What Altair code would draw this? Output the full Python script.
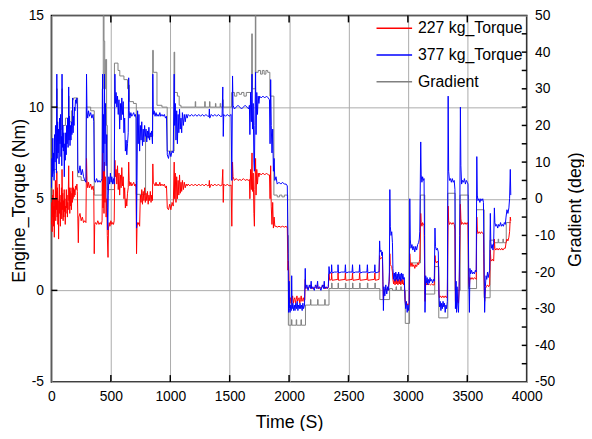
import altair as alt
import pandas as pd

# ---------------- data ----------------
SERIES = ["227 kg_Torque", "377 kg_Torque", "Gradient"]
COLORS = ["#ff0000", "#0000ff", "#808080"]

X_TICKS = [0, 500, 1000, 1500, 2000, 2500, 3000, 3500, 4000]
X_INNER = [500, 1000, 1500, 2000, 2500, 3000, 3500]
Y_TICKS = [-5, 0, 5, 10, 15]
Y_INNER = [0, 5, 10]
G_TICKS = [-50, -40, -30, -20, -10, 0, 10, 20, 30, 40, 50]
G_INNER = [-45, -40, -35, -30, -25, -20, -15, -10, -5, 0, 5, 10, 15, 20, 25, 30, 35, 40, 45]

# 377 kg torque (Nm): (time s, value)
BLUE = [(0,5.6),(4,7.2),(8,6.2),(11,8.3),(14,6.5),(18,7.5),(22,6.0),(26,8.5),(30,7.0),(34,9.0),(38,7.8),(42,6.4),(45,11.8),(48,7.2),(52,9.2),(56,7.5),(60,8.8),(64,6.9),(68,9.4),(72,8.0),(76,9.6),(80,7.3),(84,8.4),(87,6.8),(89,11.8),(92,7.8),(96,9.0),(100,7.6),(104,8.6),(108,6.2),(112,8.0),(116,7.1),(120,8.6),(124,7.4),(128,9.0),(132,8.0),(136,9.4),(140,7.8),(143,8.8),(145,11.1),(148,8.2),(152,9.5),(156,7.9),(160,9.0),(164,8.2),(168,9.2),(172,8.5),(176,9.0),(178,10.5),(182,8.6),(186,9.5),(190,9.0),(194,10.0),(198,9.8),
(202,10.4),(208,10.2),(214,10.5),(218,10.0),(222,6.6),(230,6.4),(240,6.8),(250,6.3),(260,6.6),(270,6.2),(280,6.0),(290,5.9),(295,11.8),(299,9.8),(305,9.4),(312,9.8),(320,9.5),(330,9.7),(340,9.4),(350,9.6),(356,9.2),(362,6.0),(370,5.9),(380,6.1),(390,5.9),(400,6.0),(410,5.9),(420,6.0),(426,6.1),
(430,11.8),(434,7.5),(438,9.6),(442,6.5),(446,11.8),(450,8.0),(455,10.2),(460,6.8),(465,8.5),(470,4.5),(474,3.3),(478,5.2),(483,6.2),(490,5.8),(496,6.4),(502,5.9),(508,6.2),(515,5.8),(522,6.1),(528,5.8),
(534,11.8),(538,10.2),(544,10.8),(550,10.0),(556,10.6),(562,9.6),(568,10.4),(574,8.8),(580,10.2),(586,9.3),(592,10.5),(598,9.6),(604,10.3),(610,8.6),(616,9.4),(622,7.6),(628,8.2),(634,7.4),(640,8.0),(646,8.6),(650,11.6),(654,9.8),(660,9.4),(668,9.7),(676,9.5),(684,9.6),(692,9.7),(700,9.5),(706,9.6),(712,9.4),
(716,3.4),(720,6.0),(725,9.8),(730,8.0),(736,9.6),(742,7.6),(748,9.0),(754,8.2),(760,9.2),(766,7.9),(772,8.8),(778,8.1),(784,9.0),(790,8.4),(796,8.8),(802,8.1),(808,8.7),(814,8.3),(820,8.9),(826,8.2),(832,8.6),(838,8.4),(844,8.7),(850,8.0),
(853,11.8),(857,9.6),(864,9.8),(872,9.5),(880,9.7),(888,9.5),(896,9.6),(904,9.5),(912,9.7),(920,9.5),(930,9.6),(940,9.5),(950,9.6),(960,9.4),(968,9.5),
(975,7.4),(985,7.2),(995,7.6),(1005,7.3),(1015,7.6),(1025,7.5),(1033,11.8),(1037,9.0),(1042,10.2),(1048,8.2),(1054,9.8),(1060,8.0),(1066,9.6),(1072,8.6),(1078,9.9),(1084,8.8),(1090,9.4),(1096,8.6),(1102,9.7),(1110,9.0),(1118,9.6),(1126,9.2),(1134,9.6),(1142,9.4),(1150,9.6),
(1165,9.5),(1180,9.6),(1195,9.5),(1210,9.6),(1225,9.5),(1240,9.6),(1255,9.5),(1270,9.6),(1285,9.5),(1300,9.6),(1315,9.5),(1326,9.5),(1329,9.9),(1332,9.4),(1345,9.6),(1360,9.5),(1375,9.6),(1390,9.5),(1405,9.6),(1420,9.5),(1436,9.5),
(1442,11.1),(1446,8.4),(1450,9.6),(1465,9.5),(1480,9.6),(1495,9.5),(1512,9.6),(1518,6.0),(1524,11.7),(1528,10.1),(1540,9.9),(1555,10.0),(1570,10.1),(1585,10.0),(1600,9.9),(1615,10.0),(1630,10.1),(1645,10.0),(1660,9.9),(1666,10.1),
(1670,8.5),(1676,10.8),(1682,9.2),(1688,11.8),(1692,8.8),(1698,10.2),(1704,7.0),(1708,6.5),(1712,9.0),(1718,11.9),(1722,8.5),(1728,10.8),(1734,9.6),(1740,10.6),(1746,10.2),(1752,10.6),(1765,10.5),(1780,10.6),(1795,10.5),(1810,10.6),(1825,10.5),(1835,10.4),
(1840,8.0),(1845,11.5),(1850,9.0),(1856,7.5),(1862,8.8),(1868,6.5),(1874,7.2),(1880,6.0),(1890,6.2),(1900,5.8),(1915,5.9),(1930,5.8),(1945,5.9),(1960,5.8),(1975,5.8),(1985,5.7),
(1992,2.0),(1996,-1.2),(2000,0.5),(2004,-1.0),(2008,-1.2),(2014,-0.8),(2018,-1.1),(2022,0.8),(2026,-1.0),(2032,-0.7),(2038,-1.1),(2044,-0.8),(2050,-1.1),(2056,-0.7),(2062,-1.0),(2068,-0.6),(2074,-1.1),(2080,-0.8),(2086,-1.0),(2092,-0.7),(2098,-1.0),(2104,-0.8),(2110,-1.1),(2116,-0.7),(2122,-1.0),(2130,-0.8),
(2136,1.2),(2140,0.1),(2150,0.3),(2160,0.0),(2170,0.3),(2180,0.1),(2186,0.5),(2190,0.1),(2200,0.2),(2212,0.0),(2222,0.3),(2232,0.1),(2240,0.5),(2244,0.1),(2256,0.2),(2268,0.0),(2280,0.3),(2290,0.1),(2296,0.5),(2300,0.1),(2312,0.2),(2322,0.1),(2330,0.2),
(2336,1.3),(2342,0.9),(2350,1.0),(2356,1.0),(2358,1.4),(2362,0.95),(2380,1.0),(2400,1.0),(2410,1.0),(2412,1.4),(2416,0.95),(2440,1.0),(2470,1.0),(2474,1.4),(2478,0.95),(2500,1.0),(2530,1.0),(2534,1.4),(2538,0.95),(2560,1.0),(2590,1.0),(2594,1.4),(2598,0.95),(2620,1.0),(2655,1.0),(2659,1.4),(2663,0.95),(2690,1.0),(2718,1.0),(2722,1.4),(2726,0.95),(2750,1.0),(2757,1.0),
(2762,2.7),(2766,2.1),(2774,2.2),(2780,1.9),(2786,2.1),(2790,0.5),(2794,-1.1),(2798,0.2),(2806,-0.3),(2814,0.3),(2822,-0.2),(2830,0.2),(2838,0.0),(2844,1.0),(2848,5.5),(2852,3.5),(2858,3.0),(2864,3.2),(2870,2.6),(2874,1.2),(2880,0.6),(2886,0.95),(2892,0.5),(2898,1.0),(2904,0.6),(2910,0.9),(2916,0.5),(2922,1.0),(2928,0.6),(2934,0.9),(2940,0.5),(2946,0.95),(2952,0.6),(2958,0.9),(2964,0.6),(2970,0.7),(2976,-0.6),(2982,-1.0),(2988,-0.6),(2994,-1.2),(3000,-0.8),(3006,-1.1),(3011,-0.7),
(3016,5.0),(3020,2.8),(3026,2.3),(3034,2.5),(3042,2.2),(3050,2.4),(3058,2.1),(3066,2.4),(3074,2.2),(3082,2.5),(3090,2.6),(3096,2.8),(3100,3.2),
(3108,8.1),(3112,6.3),(3118,5.9),(3124,6.2),(3130,6.0),(3136,6.1),(3140,3.0),(3144,-1.2),(3150,0.8),(3156,0.4),(3162,0.7),(3168,0.3),(3174,0.6),(3180,0.4),(3186,0.7),(3192,0.5),(3200,0.6),(3208,0.4),(3216,0.6),(3222,0.5),
(3228,3.4),(3232,2.4),(3240,2.2),(3248,2.3),(3256,2.1),(3262,-0.3),(3266,-0.9),(3272,-0.6),(3278,-1.1),(3284,-0.7),(3290,-1.0),(3296,-0.6),(3302,-0.9),(3308,-0.7),(3314,-1.2),(3320,-0.8),(3326,-1.0),(3332,-0.6),
(3339,10.6),(3343,6.5),(3350,6.0),(3358,6.1),(3366,5.9),(3374,6.1),(3382,5.9),(3390,6.0),(3396,5.5),(3400,-1.0),(3406,0.5),(3410,-1.2),(3414,0.2),(3420,-0.8),(3426,-1.2),(3432,0.5),(3436,3.0),
(3442,10.0),(3446,6.8),(3452,5.8),(3460,6.0),(3468,5.9),(3476,6.1),(3484,5.8),(3492,6.0),(3500,5.9),(3506,5.8),
(3512,1.0),(3518,-1.2),(3522,1.2),(3528,0.9),(3536,1.1),(3544,0.9),(3552,1.0),(3560,0.9),(3568,1.1),(3575,1.0),
(3580,7.3),(3584,5.2),(3590,4.9),(3598,5.0),(3606,4.8),(3614,5.0),(3622,4.9),(3630,5.0),(3636,4.8),(3640,2.0),(3646,-1.2),(3652,0.2),(3658,0.8),(3664,0.6),(3670,1.0),(3676,0.7),(3682,0.9),(3688,1.1),
(3694,4.2),(3698,2.6),(3704,2.3),(3710,2.5),(3716,2.2),(3722,2.6),(3728,4.5),(3732,3.7),(3740,3.5),(3748,3.6),(3756,3.4),(3764,3.6),(3772,3.5),(3780,3.7),(3788,3.5),(3796,3.6),(3804,3.5),(3812,3.7),(3820,3.6),(3826,4.0),(3834,4.4),(3842,4.2),(3850,4.5),(3856,5.0),(3862,6.6),(3866,5.2)]

# 227 kg torque (Nm)
RED = [(0,3.6),(3,4.8),(6,3.2),(9,5.2),(12,4.0),(15,5.5),(18,3.5),(21,4.6),(24,2.9),(27,5.0),(30,4.2),(33,6.0),(36,3.8),(39,5.4),(42,4.4),(45,6.5),(48,4.0),(51,5.6),(54,3.6),(57,4.9),(60,2.8),(63,4.5),(66,5.8),(69,4.2),(72,5.2),(75,3.5),(78,4.8),(81,4.1),(84,5.6),(87,3.9),(89,6.6),(92,4.4),(95,5.3),(98,3.8),(101,4.9),(104,4.0),(107,5.5),(110,4.3),(113,5.0),(116,3.6),(119,4.6),(122,4.2),(125,5.5),(128,4.5),(131,5.2),(134,4.0),(137,4.8),(140,4.4),(145,6.8),(148,4.9),(151,5.6),(154,4.2),(157,5.4),(160,4.6),(164,5.6),(168,4.4),(172,5.3),(176,4.8),(178,6.5),(182,5.0),(186,5.6),(190,5.1),(194,5.5),(198,5.2),
(202,5.7),(208,5.5),(214,5.8),(218,5.4),(222,3.9),(226,2.6),(230,4.0),(240,4.2),(250,3.8),(260,4.0),(270,3.7),(280,3.8),(290,3.7),(295,7.2),(299,6.0),(305,5.6),(312,5.9),(320,5.6),(330,5.8),(340,5.5),(350,5.7),(356,5.4),(360,2.0),(364,3.6),(370,3.7),(380,3.6),(390,3.8),(400,3.6),(410,3.7),(420,3.6),(426,3.8),
(430,7.5),(434,4.5),(438,6.5),(442,4.2),(446,7.0),(450,4.8),(455,6.2),(460,4.0),(465,5.0),(470,3.0),(476,1.8),(480,3.4),(486,3.7),(492,3.5),(500,3.8),(508,3.6),(515,3.7),(522,3.6),(528,3.8),
(534,7.1),(538,6.2),(544,6.6),(550,5.8),(556,6.8),(562,5.5),(568,6.4),(574,5.2),(580,6.3),(586,5.6),(592,6.7),(598,5.7),(604,6.2),(610,5.0),(616,5.6),(622,4.5),(628,5.0),(634,4.6),(640,5.3),(646,5.6),(650,7.0),(654,6.0),(660,5.7),(668,5.9),(676,5.7),(684,5.8),(692,5.9),(700,5.7),(706,5.8),(712,5.6),
(716,2.0),(720,3.4),(725,3.7),(730,3.6),(736,3.7),(742,3.5),(748,5.2),(754,4.8),(760,5.5),(766,4.7),(772,5.4),(778,4.9),(784,5.6),(790,4.8),(796,5.3),(802,4.9),(808,5.4),(814,4.7),(820,5.2),(826,4.9),(832,5.4),(838,4.8),(844,5.2),(850,4.9),
(853,6.9),(857,5.9),(864,5.8),(872,5.7),(880,5.9),(888,5.7),(896,5.8),(904,5.7),(912,5.9),(920,5.7),(930,5.8),(940,5.7),(950,5.8),(960,5.6),(968,5.7),
(975,4.5),(985,4.4),(995,4.7),(1005,4.4),(1015,4.8),(1025,4.6),(1033,7.0),(1037,5.0),(1042,6.4),(1048,4.8),(1054,6.2),(1060,5.0),(1066,6.0),(1072,5.2),(1078,6.3),(1084,5.3),(1090,5.9),(1096,5.4),(1102,6.0),(1110,5.5),(1118,5.9),(1126,5.6),(1134,5.8),(1142,5.7),(1150,5.8),
(1165,5.7),(1180,5.8),(1195,5.7),(1210,5.8),(1225,5.7),(1240,5.8),(1255,5.7),(1270,5.8),(1285,5.7),(1300,5.8),(1315,5.7),(1326,5.75),(1329,6.0),(1332,5.6),(1345,5.8),(1360,5.7),(1375,5.8),(1390,5.7),(1405,5.8),(1420,5.7),(1436,5.75),
(1442,6.6),(1446,4.8),(1450,5.8),(1465,5.7),(1480,5.8),(1495,5.7),(1512,5.75),(1518,3.5),(1524,7.0),(1528,6.2),(1540,6.0),(1555,6.1),(1570,6.0),(1585,6.05),(1600,6.0),(1615,6.1),(1630,6.0),(1645,6.05),(1660,6.0),(1666,6.05),
(1670,5.0),(1676,6.6),(1682,5.5),(1688,7.5),(1692,5.4),(1698,6.4),(1704,4.2),(1708,3.5),(1712,5.5),(1718,7.2),(1722,5.2),(1728,6.6),(1734,5.8),(1740,6.4),(1746,6.2),(1752,6.4),(1765,6.3),(1780,6.4),(1795,6.3),(1810,6.4),(1825,6.3),(1835,6.3),
(1840,5.0),(1845,6.8),(1850,4.6),(1856,3.6),(1862,4.8),(1868,3.4),(1874,4.0),(1880,3.5),(1890,3.5),(1900,3.45),(1915,3.5),(1930,3.45),(1945,3.5),(1960,3.45),(1975,3.5),(1985,3.4),
(1990,1.1),(1994,1.6),(1998,0.9),(2002,-0.5),(2006,-0.7),(2012,-0.4),(2018,-0.7),(2024,-0.5),(2030,-0.3),(2036,-0.7),(2042,-0.5),(2048,-0.4),(2054,-0.7),(2060,-0.5),(2066,-0.3),(2072,-0.6),(2078,-0.5),(2084,-0.4),(2090,-0.7),(2096,-0.5),(2102,-0.3),(2108,-0.6),(2114,-0.5),(2120,-0.4),(2126,-0.6),(2132,-0.5),
(2136,0.6),(2140,0.15),(2160,0.1),(2186,0.3),(2190,0.1),(2220,0.15),(2240,0.3),(2244,0.1),(2270,0.15),(2296,0.3),(2300,0.1),(2330,0.15),
(2336,0.9),(2342,0.55),(2356,0.6),(2358,0.95),(2362,0.55),(2410,0.6),(2412,0.95),(2416,0.55),(2470,0.6),(2474,0.95),(2478,0.55),(2530,0.6),(2534,0.95),(2538,0.55),(2590,0.6),(2594,0.95),(2598,0.55),(2655,0.6),(2659,0.95),(2663,0.55),(2718,0.6),(2722,0.95),(2726,0.55),(2757,0.6),
(2762,1.9),(2766,1.7),(2780,1.8),(2786,1.7),(2790,0.3),(2794,-0.5),(2800,0.0),(2815,0.1),(2830,0.0),(2844,0.5),(2848,2.0),(2852,1.4),(2864,1.3),(2870,1.0),(2874,0.6),(2880,0.35),(2886,0.6),(2892,0.3),(2898,0.65),(2904,0.35),(2910,0.6),(2916,0.3),(2922,0.6),(2928,0.35),(2934,0.6),(2940,0.3),(2946,0.6),(2952,0.35),(2958,0.6),(2964,0.3),(2970,0.4),(2976,-0.5),(2982,-0.8),(2990,-0.7),(3000,-0.8),(3011,-0.7),
(3016,2.0),(3020,1.5),(3026,1.3),(3034,1.5),(3042,1.3),(3050,1.4),(3058,1.2),(3066,1.4),(3074,1.3),(3082,1.5),(3090,1.4),(3100,1.7),
(3108,4.2),(3112,3.7),(3118,3.5),(3124,3.7),(3130,3.6),(3136,3.6),(3140,1.5),(3144,-0.6),(3150,0.4),(3156,0.3),(3162,0.4),(3170,0.3),(3180,0.35),(3190,0.3),(3200,0.35),(3210,0.3),(3222,0.3),
(3228,1.9),(3232,1.6),(3240,1.5),(3248,1.6),(3256,1.5),(3262,-0.2),(3266,-0.4),(3274,-0.3),(3284,-0.4),(3294,-0.3),(3304,-0.4),(3314,-0.3),(3324,-0.4),(3332,-0.3),
(3339,4.6),(3343,3.8),(3350,3.6),(3360,3.7),(3370,3.6),(3380,3.7),(3390,3.6),(3396,3.3),(3400,-0.6),(3410,-0.7),(3420,-0.5),(3426,-0.7),(3432,0.2),(3436,1.8),
(3442,4.7),(3446,3.9),(3452,3.6),(3460,3.7),(3470,3.6),(3480,3.7),(3490,3.6),(3500,3.7),(3506,3.6),
(3512,0.5),(3518,0.2),(3522,0.7),(3530,0.6),(3540,0.7),(3550,0.6),(3560,0.7),(3575,0.6),
(3580,4.0),(3584,3.3),(3590,3.1),(3600,3.2),(3610,3.1),(3620,3.2),(3630,3.1),(3636,3.1),(3640,1.0),(3646,-0.6),(3652,0.1),(3660,0.2),(3670,0.3),(3680,0.2),(3688,0.3),
(3694,2.2),(3698,1.7),(3704,1.6),(3712,1.7),(3722,1.6),(3728,2.8),(3732,2.3),(3740,2.2),(3750,2.3),(3760,2.2),(3770,2.3),(3780,2.2),(3790,2.3),(3800,2.2),(3810,2.3),(3820,2.3),(3826,2.6),(3834,2.8),(3842,2.7),(3850,2.9),(3856,3.2),(3862,4.0),(3866,3.8)]

# Gradient (deg), held until the next point
GRAD = [(0,7.0),(20,8.0),(40,14.0),(44,30.0),(48,16.0),(70,19.0),(88,30.0),(92,20.0),(118,22.0),(144,28.0),(148,21.0),(168,24.0),(178,27.0),(186,27.5),(200,27.5),(220,6.0),(250,5.0),(294,25.0),(330,24.0),(360,1.0),(428,30.0),(436,50.0),(442,43.0),(448,30.0),(456,38.0),(464,20.0),(470,2.5),(530,37.0),(560,35.0),(575,33.5),(610,32.5),(640,30.0),(650,31.0),(656,26.5),(690,26.0),(714,1.2),(792,17.0),(852,40.5),(857,34.5),(888,25.5),(930,25.0),(974,13.0),(1032,40.0),(1037,29.0),(1060,28.0),(1075,25.5),(1090,25.0),(1200,25.0),(1210,26.5),(1214,25.0),(1290,26.5),(1294,25.0),(1330,26.5),(1334,25.0),(1380,26.0),(1384,25.0),(1420,26.0),(1424,25.0),(1440,27.0),(1446,25.0),(1516,29.0),(1540,28.0),(1560,29.0),(1580,28.5),(1600,29.0),(1620,28.0),(1640,29.0),(1686,45.0),(1690,30.0),(1716,50.0),(1720,34.5),(1740,35.0),(1760,34.0),(1775,35.0),(1790,34.0),(1805,35.0),(1820,34.5),(1838,28.0),(1872,1.0),(1900,0.5),(1920,1.0),(1940,0.5),(1960,1.0),(1988,-10.0),(1994,-34.5),(2020,-33.0),(2024,-34.5),(2060,-33.0),(2064,-34.5),(2100,-33.0),(2104,-34.5),(2138,-29.0),(2180,-27.5),(2184,-29.0),(2240,-27.5),(2244,-29.0),(2300,-27.5),(2304,-29.0),(2336,-24.5),(2358,-23.0),(2362,-24.5),(2412,-23.0),(2416,-24.5),(2474,-23.0),(2478,-24.5),(2534,-23.0),(2538,-24.5),(2594,-23.0),(2598,-24.5),(2659,-23.0),(2663,-24.5),(2722,-23.0),(2726,-24.5),(2764,-27.5),(2846,-24.5),(2870,-25.0),(2900,-24.0),(2904,-25.0),(2940,-24.0),(2944,-25.0),(2978,-34.0),(3014,-17.5),(3106,1.0),(3142,-26.0),(3226,-18.5),(3260,-32.5),(3336,1.5),(3398,-25.0),(3440,1.0),(3510,-24.5),(3578,-3.0),(3642,-27.0),(3692,-11.3),(3726,-12.0),(3760,-11.0),(3764,-12.0),(3800,-11.0),(3804,-12.0),(3828,-6.5),(3866,-6.5)]

# ---------------- chart ----------------
W, H = 481, 371
FONT = "Liberation Sans"
GRID = "#ababab"


def frame(pairs, name, col):
    return pd.DataFrame({"t": [p[0] for p in pairs], col: [p[1] for p in pairs], "series": name})


red_df = frame(RED, SERIES[0], "v")
blue_df = frame(BLUE, SERIES[1], "v")
grad_df = frame(GRAD, SERIES[2], "g")

xs = alt.Scale(domain=[0, 4000], nice=False, zero=False)
ys = alt.Scale(domain=[-5, 15], nice=False, zero=False)
gs = alt.Scale(domain=[-50, 50], nice=False, zero=False)
cs = alt.Scale(domain=SERIES, range=COLORS)

common = dict(labelFont=FONT, labelFontSize=14, labelColor="black",
              titleFont=FONT, titleFontSize=18, titleFontWeight="normal", titleColor="black",
              ticks=False, tickSize=0, domain=False, labelFlush=False, labelOverlap=False,
              labelExpr="'' + datum.value")

x_axis = alt.Axis(values=X_TICKS, title="Time (S)", grid=True, gridColor=GRID, gridWidth=1,
                  labelPadding=8, titleX=W / 2, titleY=46, titleBaseline="alphabetic",
                  titleAlign="center", **common)
y_axis = alt.Axis(values=Y_TICKS, title="Engine_Torque (Nm)", orient="left", grid=True,
                  gridColor=GRID, gridWidth=1, labelPadding=8, titleAngle=270, titleX=-32,
                  titleY=187, titleBaseline="middle", titleAlign="center", **common)
g_axis = alt.Axis(values=G_TICKS, title="Gradient (deg)", orient="right", grid=False,
                  labelPadding=8, titleAngle=270, titleX=49, titleY=196,
                  titleBaseline="middle", titleAlign="center", **common)

legend = alt.Legend(title=None, orient="none", legendX=328, legendY=-6, symbolType="stroke",
                    symbolSize=1296, symbolStrokeWidth=1.5, labelFont=FONT, labelFontSize=16,
                    labelColor="black", labelOffset=5, rowPadding=-21, padding=0)

X = alt.X("t:Q", scale=xs, axis=x_axis)
color = alt.Color("series:N", scale=cs, legend=legend)

red_line = alt.Chart(red_df).mark_line(strokeWidth=1).encode(
    x=X, y=alt.Y("v:Q", scale=ys, axis=y_axis), color=color)
blue_line = alt.Chart(blue_df).mark_line(strokeWidth=1).encode(
    x=X, y=alt.Y("v:Q", scale=ys, axis=y_axis), color=color)

left_ticks = alt.Chart(pd.DataFrame({"v": Y_INNER})).mark_rule(color="black", strokeWidth=1.5).encode(
    y=alt.Y("v:Q", scale=ys, axis=y_axis), x=alt.value(0), x2=alt.value(6))
top_ticks = alt.Chart(pd.DataFrame({"t": X_INNER})).mark_rule(color="black", strokeWidth=1.5).encode(
    x=X, y=alt.value(0), y2=alt.value(7))
bottom_ticks = alt.Chart(pd.DataFrame({"t": X_INNER})).mark_rule(color="black", strokeWidth=1.5).encode(
    x=X, y=alt.value(H - 7), y2=alt.value(H))

gray_line = alt.Chart(grad_df).mark_line(strokeWidth=1, interpolate="step-after").encode(
    x=X, y=alt.Y("g:Q", scale=gs, axis=g_axis), color=color)
right_ticks = alt.Chart(pd.DataFrame({"g": G_INNER})).mark_rule(color="black", strokeWidth=1.5).encode(
    y=alt.Y("g:Q", scale=gs, axis=g_axis), x=alt.value(W - 5), x2=alt.value(W))

grad_layer = alt.layer(gray_line, right_ticks)
torque_layer = alt.layer(red_line, blue_line, left_ticks, top_ticks, bottom_ticks)

chart = alt.layer(grad_layer, torque_layer).resolve_scale(y="independent").properties(
    width=W, height=H,
    autosize=alt.AutoSizeParams(type="none"),
    padding={"left": 44, "top": 5, "right": 58, "bottom": 47},
    background="white",
).configure_view(stroke="black", strokeWidth=1.6)

chart.save("out.html", embed_options={"renderer": "svg", "actions": False})
